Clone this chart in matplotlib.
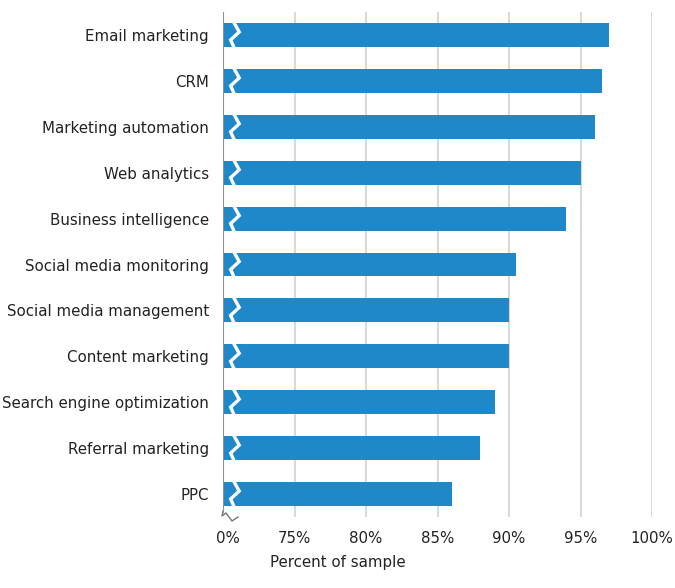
import numpy as np
import matplotlib.pyplot as plt
from matplotlib.transforms import ScaledTranslation

categories = ["Email marketing", "CRM", "Marketing automation", "Web analytics",
              "Business intelligence", "Social media monitoring",
              "Social media management", "Content marketing",
              "Search engine optimization", "Referral marketing", "PPC"]
values = [97, 96.5, 96, 95, 94, 90.5, 90, 90, 89, 88, 86]
ticks = [0, 75, 80, 85, 90, 95, 100]
tick_labels = ["0%", "75%", "80%", "85%", "90%", "95%", "100%"]

BREAK = 75.0   # axis jumps from 0 to 75
GAP = 5.0      # room given to the 0..75 part, same as one 5% step


def fwd(v):
    v = np.asarray(v, dtype=float)
    return np.where(v >= BREAK, v - BREAK + GAP, v * GAP / BREAK)


def inv(t):
    t = np.asarray(t, dtype=float)
    return np.where(t >= GAP, t + BREAK - GAP, t * BREAK / GAP)


blue = "#1F88C9"
W, H = 675, 588
fig = plt.figure(figsize=(W / 100, H / 100), dpi=100)
ax = fig.add_axes([223 / W, 1 - 517 / H, (652 - 223) / W, (517 - 12) / H])
ax.set_xscale("function", functions=(fwd, inv))

y = np.arange(len(categories))
ax.barh(y, values, height=0.52, color=blue, zorder=3)

# white zigzag through each bar (axis break)
zx = [11.5, 17.0, 8.0, 11.5]
zy = [-0.5, -0.12, 0.2, 0.5]
for yi in y:
    ax.plot(zx, [yi + d * 0.54 for d in zy], color="white", lw=2.4,
            zorder=4, solid_joinstyle="miter")

ax.set_xlim(0, 100)
ax.set_ylim(len(categories) - 0.5, -0.5)
ax.set_yticks(y)
ax.set_yticklabels(categories)
ax.set_xticks(ticks)
ax.set_xticklabels(tick_labels)
ax.tick_params(length=0, labelsize=10.8, colors="#222222")
ax.tick_params(axis="y", pad=10)
ax.tick_params(axis="x", pad=10)
for s in ax.spines.values():
    s.set_visible(False)

for t in ticks[1:]:
    ax.axvline(t, color="#d9d9d9", lw=1.5, zorder=1)
ax.axvline(0, ymin=0.01, color="#909090", lw=1.5, zorder=5)

# break mark under the axis
bx = np.array([223, 222, 226, 232, 238])
by = np.array([511, 516, 513, 521, 517])
ax.plot((bx - 223) / (652 - 223), (517 - by) / (517 - 12), color="#777777",
        lw=1, transform=ax.transAxes, clip_on=False)

lab0 = ax.get_xticklabels()[0]
lab0.set_transform(lab0.get_transform() + ScaledTranslation(0.05, 0, fig.dpi_scale_trans))

fig.text(338 / W, 1 - 563 / H, "Percent of sample", ha="center", va="center",
         fontsize=10.8, color="#222222")

fig.savefig("out.png", dpi=100)
